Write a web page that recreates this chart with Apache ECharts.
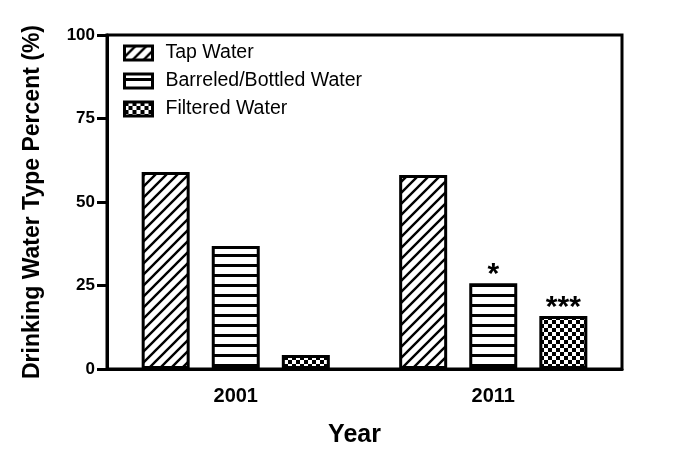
<!DOCTYPE html>
<html>
<head>
<meta charset="utf-8">
<script src="https://cdn.jsdelivr.net/npm/echarts@6/dist/echarts.min.js"></script>
<style>html,body{margin:0;padding:0;background:#fff}#c{width:685px;height:466px}</style>
</head>
<body>
<div id="c"></div>
<script>
const categories = ['2001', '2011'];
const tapWater = [59.0, 58.1];
const bottledWater = [36.8, 25.7];
const filteredWater = [4.2, 15.9];
const bottledMarks = ['', '*'];
const filteredMarks = ['', '***'];
const yTicks = [0, 25, 50, 75, 100];

function makeTile(w, h, draw) {
  const c = document.createElement('canvas');
  c.width = w; c.height = h;
  const ctx = c.getContext('2d');
  ctx.fillStyle = '#fff';
  ctx.fillRect(0, 0, w, h);
  ctx.fillStyle = '#000';
  ctx.strokeStyle = '#000';
  draw(ctx, w, h);
  return c;
}
const hatch = makeTile(11, 11, (ctx, w, h) => {
  ctx.lineWidth = 2.4;
  ctx.beginPath();
  ctx.moveTo(-2, h + 2); ctx.lineTo(w + 2, -2);
  ctx.moveTo(-2, 2); ctx.lineTo(2, -2);
  ctx.moveTo(w - 2, h + 2); ctx.lineTo(w + 2, h - 2);
  ctx.stroke();
});
const stripes = makeTile(10, 10, (ctx, w, h) => {
  ctx.fillRect(0, 4, w, 3);
});
const checker = makeTile(8, 8, (ctx, w, h) => {
  ctx.fillRect(0, 0, 4, 4);
  ctx.fillRect(4, 4, 4, 4);
});

const font = 'Liberation Sans';
function withMarks(values, marks) {
  return values.map((v, i) => marks[i] ? {
    value: v,
    label: { show: true, position: 'top', distance: -7, formatter: marks[i], fontSize: 30, fontWeight: 'bold', color: '#000', fontFamily: font }
  } : v);
}

const chart = echarts.init(document.getElementById('c'), null, { renderer: 'canvas' });
const baseBar = {
  type: 'bar',
  barWidth: 48,
  barGap: '46%',
  emphasis: { disabled: true },
  animation: false
};
chart.setOption({
  animation: false,
  backgroundColor: '#fff',
  grid: { left: 107, right: 63, top: 35, bottom: 97, show: true, borderColor: '#000', borderWidth: 3, backgroundColor: 'transparent' },
  legend: {
    orient: 'vertical',
    left: 118,
    top: 38,
    icon: 'rect',
    itemWidth: 28,
    itemHeight: 14,
    itemGap: 8,
    textStyle: { fontSize: 19.5, color: '#000', fontFamily: font, padding: [0, 0, 0, 8] },
    itemStyle: { borderColor: '#000', borderWidth: 3 },
    selectedMode: false,
    data: ['Tap Water', 'Barreled/Bottled Water', 'Filtered Water']
  },
  xAxis: {
    type: 'category',
    data: categories,
    name: 'Year',
    nameLocation: 'middle',
    nameGap: 54,
    nameTextStyle: { fontSize: 25, fontWeight: 'bold', color: '#000', fontFamily: font, padding: [0, 20, 0, 0] },
    axisLine: { lineStyle: { color: '#000', width: 3 } },
    axisTick: { alignWithLabel: true, length: 9, lineStyle: { color: '#000', width: 3 } },
    axisLabel: { fontSize: 20, fontWeight: 'bold', color: '#000', margin: 17, fontFamily: font }
  },
  yAxis: {
    type: 'value',
    min: yTicks[0],
    max: yTicks[yTicks.length - 1],
    interval: 25,
    name: 'Drinking Water Type Percent (%)',
    nameLocation: 'middle',
    nameGap: 63,
    nameTextStyle: { fontSize: 23, fontWeight: 'bold', color: '#000', fontFamily: font, padding: [0, 0, 0, 0] },
    splitLine: { show: false },
    axisLine: { show: true, lineStyle: { color: '#000', width: 3 } },
    axisTick: { show: true, length: 10, lineStyle: { color: '#000', width: 3 } },
    axisLabel: { fontSize: 17, fontWeight: 'bold', color: '#000', margin: 12, fontFamily: font }
  },
  series: [
    Object.assign({}, baseBar, { name: 'Tap Water', data: tapWater, itemStyle: { color: { image: hatch, repetition: 'repeat' }, borderColor: '#000', borderWidth: 3 } }),
    Object.assign({}, baseBar, { name: 'Barreled/Bottled Water', data: withMarks(bottledWater, bottledMarks), itemStyle: { color: { image: stripes, repetition: 'repeat' }, borderColor: '#000', borderWidth: 3 } }),
    Object.assign({}, baseBar, { name: 'Filtered Water', data: withMarks(filteredWater, filteredMarks), itemStyle: { color: { image: checker, repetition: 'repeat' }, borderColor: '#000', borderWidth: 3 } })
  ]
});
</script>
</body>
</html>
